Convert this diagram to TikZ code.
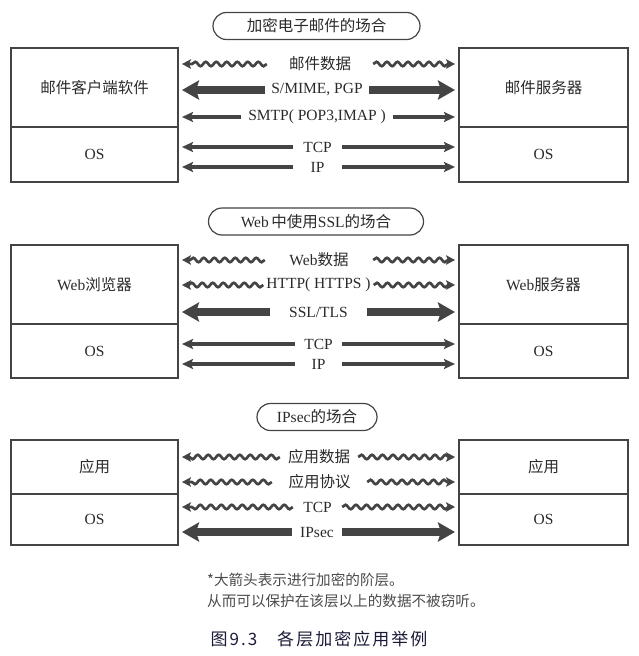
\documentclass[tikz,border=0pt]{standalone}
\usepackage{fontspec}
\setmainfont{Liberation Serif}
\newfontfamily\zh{Noto Sans CJK SC}
\newfontfamily\capf[LetterSpace=12]{Noto Sans CJK SC}
\usetikzlibrary{arrows.meta,decorations.pathmorphing,shapes.misc}
\definecolor{ink}{HTML}{444444}
\definecolor{txt}{HTML}{2A2A2A}
\definecolor{notec}{HTML}{4A4A4A}
\definecolor{capc}{HTML}{1A1A38}
\tikzset{
 lbl/.style={inner sep=0pt, minimum height=14pt, text=txt, font=\fontsize{15.5}{17}\selectfont},
 layerbox/.style={draw=ink, line width=1.2pt, inner sep=0pt, text=txt, font=\fontsize{15.5}{17}\selectfont},
 pill/.style={draw=ink, line width=1.2pt, rounded rectangle, inner sep=0pt, minimum height=27pt, text=txt, font=\fontsize{15.5}{17}\selectfont},
 thinarr/.style={draw=ink, line width=3.2pt, -{Stealth[length=11pt,width=10pt,inset=2pt]}},
 bigarr/.style={draw=ink, line width=7.5pt, -{Stealth[length=17pt,width=19pt,inset=3pt]}},
 wavearr/.style={draw=ink, line width=2.7pt, -{Stealth[length=9pt,width=9.5pt,inset=2pt]}, decorate, decoration={snake, amplitude=2.2pt, segment length=10.5pt, post length=5pt}},
}
\begin{document}
\begin{tikzpicture}[x=1pt,y=-1pt]
\useasboundingbox (0,0) rectangle (639,656);
\coordinate (L) at (182,0);
\coordinate (R) at (455,0);

% ---------- section 1 ----------
\node[pill, minimum width=207pt] (t1) at (316.5,26) {{\zh 加密电子邮件的场合}};
\node[layerbox, minimum width=167pt, minimum height=79pt] (a1) at (94.5,87.5) {{\zh 邮件客户端软件}};
\node[layerbox, minimum width=167pt, minimum height=55pt] (a2) at (94.5,154.5) {OS};
\node[layerbox, minimum width=169pt, minimum height=79pt] (b1) at (543.5,87.5) {{\zh 邮件服务器}};
\node[layerbox, minimum width=169pt, minimum height=55pt] (b2) at (543.5,154.5) {OS};

\node[lbl, minimum width=106pt] (m1) at (320,64) {{\zh 邮件数据}};
\draw[wavearr] (m1.west) -- (m1.west -| L);
\draw[wavearr] (m1.east) -- (m1.east -| R);
\node[lbl, minimum width=104pt] (m2) at (317,90) {S/MIME, PGP};
\draw[bigarr] (m2.west) -- (m2.west -| L);
\draw[bigarr] (m2.east) -- (m2.east -| R);
\node[lbl, minimum width=152pt] (m3) at (317,117) {SMTP( POP3,IMAP )};
\draw[thinarr] (m3.west) -- (m3.west -| L);
\draw[thinarr] (m3.east) -- (m3.east -| R);
\node[lbl, minimum width=49pt] (m4) at (317.5,147) {TCP};
\draw[thinarr] (m4.west) -- (m4.west -| L);
\draw[thinarr] (m4.east) -- (m4.east -| R);
\node[lbl, minimum width=49pt] (m5) at (317.5,167) {IP};
\draw[thinarr] (m5.west) -- (m5.west -| L);
\draw[thinarr] (m5.east) -- (m5.east -| R);

% ---------- section 2 ----------
\node[pill, minimum width=215pt] (t2) at (316,221.5) {Web\,{\zh 中使用}SSL{\zh 的场合}};
\node[layerbox, minimum width=167pt, minimum height=79pt] (c1) at (94.5,284.5) {Web{\zh 浏览器}};
\node[layerbox, minimum width=167pt, minimum height=54pt] (c2) at (94.5,351) {OS};
\node[layerbox, minimum width=169pt, minimum height=79pt] (d1) at (543.5,284.5) {Web{\zh 服务器}};
\node[layerbox, minimum width=169pt, minimum height=54pt] (d2) at (543.5,351) {OS};

\node[lbl, minimum width=108pt] (n1) at (319,260) {Web{\zh 数据}};
\draw[wavearr] (n1.west) -- (n1.west -| L);
\draw[wavearr] (n1.east) -- (n1.east -| R);
\node[lbl, minimum width=110pt] (n2) at (318.5,285) {HTTP( HTTPS )};
\draw[wavearr] (n2.west) -- (n2.west -| L);
\draw[wavearr] (n2.east) -- (n2.east -| R);
\node[lbl, minimum width=97pt] (n3) at (318.5,312) {SSL/TLS};
\draw[bigarr] (n3.west) -- (n3.west -| L);
\draw[bigarr] (n3.east) -- (n3.east -| R);
\node[lbl, minimum width=47pt] (n4) at (318.5,344) {TCP};
\draw[thinarr] (n4.west) -- (n4.west -| L);
\draw[thinarr] (n4.east) -- (n4.east -| R);
\node[lbl, minimum width=47pt] (n5) at (318.5,364) {IP};
\draw[thinarr] (n5.west) -- (n5.west -| L);
\draw[thinarr] (n5.east) -- (n5.east -| R);

% ---------- section 3 ----------
\node[pill, minimum width=120pt] (t3) at (317,417) {IPsec{\zh 的场合}};
\node[layerbox, minimum width=167pt, minimum height=54pt] (e1) at (94.5,467) {{\zh 应用}};
\node[layerbox, minimum width=167pt, minimum height=51pt] (e2) at (94.5,519.5) {OS};
\node[layerbox, minimum width=169pt, minimum height=54pt] (f1) at (543.5,467) {{\zh 应用}};
\node[layerbox, minimum width=169pt, minimum height=51pt] (f2) at (543.5,519.5) {OS};

\node[lbl, minimum width=78pt] (p1) at (319,457) {{\zh 应用数据}};
\draw[wavearr] (p1.west) -- (p1.west -| L);
\draw[wavearr] (p1.east) -- (p1.east -| R);
\node[lbl, minimum width=95pt] (p2) at (319.5,482) {{\zh 应用协议}};
\draw[wavearr] (p2.west) -- (p2.west -| L);
\draw[wavearr] (p2.east) -- (p2.east -| R);
\node[lbl, minimum width=49pt] (p3) at (317.5,507) {TCP};
\draw[wavearr] (p3.west) -- (p3.west -| L);
\draw[wavearr] (p3.east) -- (p3.east -| R);
\node[lbl, minimum width=50pt] (p4) at (317,532) {IPsec};
\draw[bigarr] (p4.west) -- (p4.west -| L);
\draw[bigarr] (p4.east) -- (p4.east -| R);

% ---------- notes ----------
\node[anchor=north west, inner sep=0pt, align=left, text=notec, font=\zh\fontsize{14.6}{21}\selectfont] (note) at (207,573) {*大箭头表示进行加密的阶层。\\从而可以保护在该层以上的数据不被窃听。};
\node[inner sep=0pt, text=capc, font=\fontsize{17}{19}\selectfont] (cap) at (319,639) {\capf 图9.3\hspace{20pt}各层加密应用举例};
\end{tikzpicture}
\end{document}
